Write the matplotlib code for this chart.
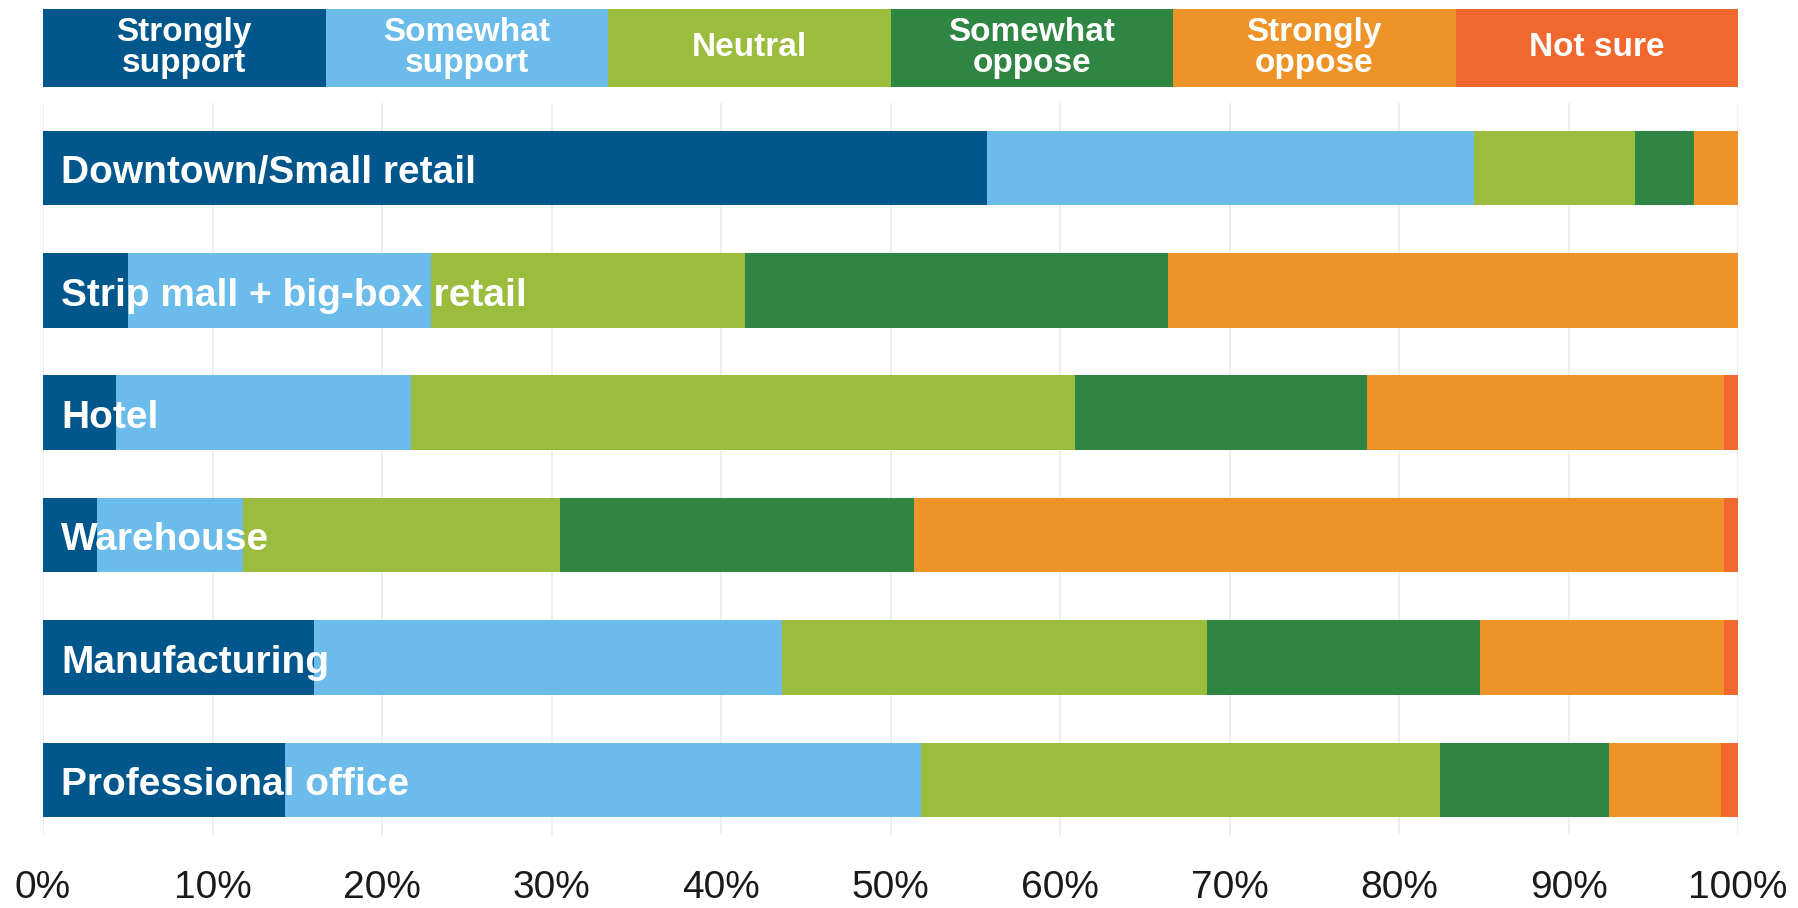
import matplotlib
matplotlib.use("Agg")
import matplotlib.pyplot as plt
import numpy as np

categories = ["Downtown/Small retail", "Strip mall + big-box retail", "Hotel",
              "Warehouse", "Manufacturing", "Professional office"]
responses = ["Strongly\nsupport", "Somewhat\nsupport", "Neutral",
             "Somewhat\noppose", "Strongly\noppose", "Not sure"]
strongly_support = [55.7, 5.0, 4.3, 3.2, 16.0, 14.3]
somewhat_support = [28.7, 17.9, 17.4, 8.6, 27.6, 37.5]
neutral = [9.5, 18.5, 39.2, 18.7, 25.1, 30.6]
somewhat_oppose = [3.5, 25.0, 17.2, 20.9, 16.1, 10.0]
strongly_oppose = [2.6, 33.6, 21.1, 47.8, 14.4, 6.6]
not_sure = [0.0, 0.0, 0.8, 0.8, 0.8, 1.0]
tick_values = [0, 10, 20, 30, 40, 50, 60, 70, 80, 90, 100]
tick_labels = ["0%", "10%", "20%", "30%", "40%", "50%", "60%", "70%", "80%", "90%", "100%"]

colors = ["#01568C", "#6BBCEA", "#9BBC3C", "#2F8542", "#EE9328", "#F0682E"]
series = [strongly_support, somewhat_support, neutral, somewhat_oppose, strongly_oppose, not_sure]

plt.rcParams['font.family'] = ['Liberation Sans', 'DejaVu Sans']

fig = plt.figure(figsize=(17.98, 9.08), dpi=100)
W, H = 1798, 908
x0, x1 = 43, 1738
ax = fig.add_axes([x0 / W, 1 - 835 / H, (x1 - x0) / W, (835 - 103) / H])
lax = fig.add_axes([x0 / W, 1 - 87 / H, (x1 - x0) / W, (87 - 9) / H])

y = np.arange(len(categories))
left = np.zeros(len(categories))
for vals, c in zip(series, colors):
    ax.barh(y, vals, left=left, height=0.61, color=c, edgecolor='none', zorder=2)
    left += np.array(vals)

ax.set_xlim(0, 100)
ax.set_ylim(5.45, -0.53)
ax.set_xticks(tick_values)
ax.set_xticklabels(tick_labels, fontsize=28, color='#1a1a1a')
ax.set_yticks([])
ax.tick_params(axis='x', length=0, pad=25)
ax.grid(axis='x', color='#EBEBEB', linewidth=1.1, zorder=0)
for s in ax.spines.values():
    s.set_visible(False)

for i, name in enumerate(categories):
    ax.annotate(name, xy=(0, i), xytext=(13, -11), textcoords='offset points',
                ha='left', va='baseline', color='white', fontsize=28,
                fontweight='bold', zorder=3)

# legend bar
n = len(responses)
for j, (lab, c) in enumerate(zip(responses, colors)):
    lax.barh(0, 1, left=j, height=1, color=c, edgecolor='none')
    lax.text(j + 0.5, 0.0, lab, ha='center', va='center', color='white',
             fontsize=24, fontweight='bold', linespacing=1.0)
lax.set_xlim(0, n)
lax.set_ylim(-0.5, 0.5)
lax.axis('off')

fig.savefig("out.png", dpi=100)
